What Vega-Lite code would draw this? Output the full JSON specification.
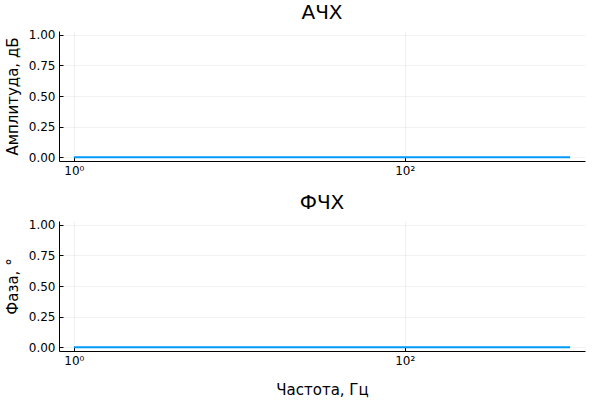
{
  "$schema": "https://vega.github.io/schema/vega-lite/v6.json",
  "padding": {"left": 5, "top": 2, "right": 12, "bottom": 2},
  "spacing": 16,
  "config": {
    "font": "DejaVu Sans",
    "view": {"stroke": null},
    "axis": {
      "domainColor": "#000000",
      "domainWidth": 1,
      "tickColor": "#000000",
      "tickSize": -4,
      "tickWidth": 1,
      "grid": true,
      "gridColor": "#000000",
      "gridOpacity": 0.1,
      "gridWidth": 0.5,
      "labelFont": "DejaVu Sans",
      "labelFontSize": 12,
      "labelColor": "#000000",
      "labelPadding": 8,
      "titleFont": "DejaVu Sans",
      "titleFontSize": 15,
      "titleFontWeight": "normal",
      "titleColor": "#000000"
    },
    "axisY": {"titlePadding": 8},
    "title": {"font": "DejaVu Sans", "fontSize": 20, "fontWeight": "normal", "color": "#000000", "anchor": "middle", "offset": 6}
  },
  "data": {
    "values": [
      {"freq": 1, "amp": 0, "phase": 0},
      {"freq": 10, "amp": 0, "phase": 0},
      {"freq": 100, "amp": 0, "phase": 0},
      {"freq": 1000, "amp": 0, "phase": 0}
    ]
  },
  "vconcat": [
    {
      "title": "АЧХ",
      "width": 526,
      "height": 130,
      "mark": {"type": "line", "color": "#009AFA", "strokeWidth": 2},
      "encoding": {
        "x": {
          "field": "freq", "type": "quantitative",
          "scale": {"type": "log", "domain": [0.813, 1230], "nice": false},
          "axis": {"values": [1, 100], "labelExpr": "datum.value == 1 ? '10⁰' : '10²'", "title": null}
        },
        "y": {
          "field": "amp", "type": "quantitative",
          "scale": {"domain": [-0.03, 1.03], "nice": false, "zero": false},
          "axis": {"values": [0, 0.25, 0.5, 0.75, 1], "format": ".2f", "title": "Амплитуда, дБ"}
        }
      }
    },
    {
      "title": "ФЧХ",
      "width": 526,
      "height": 130,
      "mark": {"type": "line", "color": "#009AFA", "strokeWidth": 2},
      "encoding": {
        "x": {
          "field": "freq", "type": "quantitative",
          "scale": {"type": "log", "domain": [0.813, 1230], "nice": false},
          "axis": {"values": [1, 100], "labelExpr": "datum.value == 1 ? '10⁰' : '10²'", "title": "Частота, Гц", "titlePadding": 16}
        },
        "y": {
          "field": "phase", "type": "quantitative",
          "scale": {"domain": [-0.03, 1.03], "nice": false, "zero": false},
          "axis": {"values": [0, 0.25, 0.5, 0.75, 1], "format": ".2f", "title": "Фаза, °"}
        }
      }
    }
  ]
}
